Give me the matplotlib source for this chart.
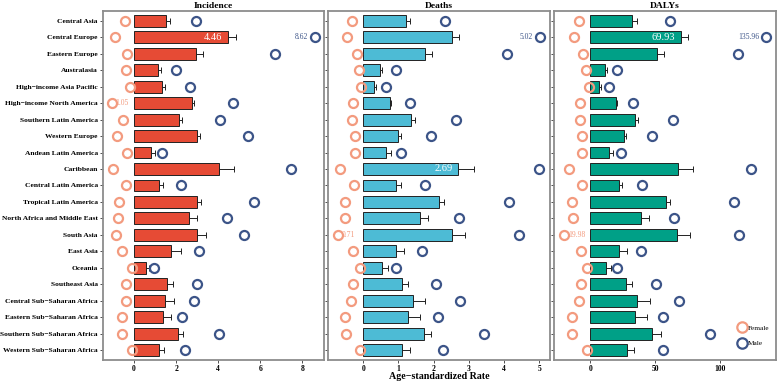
import matplotlib
matplotlib.use("Agg")
import matplotlib.pyplot as plt
import numpy as np

plt.rcParams["font.family"] = ["Liberation Serif", "DejaVu Serif"]

regions = [
    "Central Asia", "Central Europe", "Eastern Europe", "Australasia",
    "High−income Asia Pacific", "High−income North America",
    "Southern Latin America", "Western Europe", "Andean Latin America",
    "Caribbean", "Central Latin America", "Tropical Latin America",
    "North Africa and Middle East", "South Asia", "East Asia", "Oceania",
    "Southeast Asia", "Central Sub−Saharan Africa", "Eastern Sub−Saharan Africa",
    "Southern Sub−Saharan Africa", "Western Sub−Saharan Africa",
]

# both sexes (bar), upper bound of interval, female, male
inc_both = [1.51, 4.46, 2.95, 1.14, 1.35, 2.76, 2.16, 2.98, 0.81, 4.06, 1.21,
            2.98, 2.60, 2.98, 1.78, 0.56, 1.59, 1.48, 1.40, 2.08, 1.19]
inc_upper = [1.71, 4.87, 3.30, 1.29, 1.46, 2.86, 2.30, 3.14, 1.02, 4.75, 1.37,
             3.16, 2.98, 3.43, 2.24, 0.73, 1.86, 1.89, 1.78, 2.35, 1.43]
inc_female = [0.41, 0.92, 0.33, 0.40, 0.21, 1.05, 0.54, 0.79, 0.33, 0.98, 0.37,
              0.71, 0.78, 0.87, 0.56, 0.11, 0.37, 0.38, 0.56, 0.59, 0.10]
inc_male = [2.95, 8.62, 6.68, 1.98, 2.65, 4.70, 4.08, 5.41, 1.33, 7.48, 2.22,
            5.68, 4.41, 5.22, 3.11, 0.97, 3.00, 2.84, 2.27, 4.06, 2.41]

dea_both = [1.20, 2.51, 1.75, 0.49, 0.32, 0.77, 1.36, 0.99, 0.64, 2.69, 0.94,
            2.15, 1.62, 2.52, 0.94, 0.52, 1.10, 1.40, 1.28, 1.72, 1.11]
dea_upper = [1.32, 2.71, 1.95, 0.53, 0.35, 0.79, 1.47, 1.06, 0.79, 3.14, 1.08,
             2.29, 1.84, 2.89, 1.16, 0.69, 1.28, 1.76, 1.61, 1.92, 1.34]
dea_female = [0.31, 0.46, 0.18, 0.12, 0.05, 0.28, 0.33, 0.23, 0.24, 0.66, 0.27,
              0.52, 0.52, 0.71, 0.30, 0.09, 0.29, 0.35, 0.52, 0.50, 0.09]
dea_male = [2.33, 5.02, 4.08, 0.92, 0.66, 1.33, 2.62, 1.91, 1.08, 4.98, 1.75,
            4.14, 2.71, 4.43, 1.68, 0.93, 2.07, 2.74, 2.12, 3.42, 2.27]

daly_both = [32.1, 69.93, 51.3, 11.5, 7.1, 19.9, 34.2, 25.8, 14.8, 67.6, 21.9,
             58.4, 39.3, 67.1, 22.4, 12.2, 27.6, 36.0, 34.2, 48.0, 28.1]
daly_upper = [36.2, 75.5, 57.1, 12.8, 7.9, 20.4, 36.7, 27.3, 17.9, 79.6, 24.7,
              61.5, 45.2, 77.3, 28.1, 16.1, 32.1, 46.4, 44.1, 54.6, 33.7]
daly_female = [8.9, 12.8, 5.4, 3.1, 1.3, 7.9, 8.2, 6.1, 6.1, 16.1, 6.4,
               13.8, 13.5, 19.98, 6.9, 2.8, 7.1, 8.9, 14.3, 14.0, 2.6]
daly_male = [61.2, 135.96, 113.8, 20.9, 14.3, 33.2, 64.0, 47.4, 23.7, 124.2, 39.8,
             110.7, 64.5, 115.1, 39.3, 20.7, 50.5, 68.6, 56.1, 92.6, 56.1]

panels = [
    ("Incidence", inc_both, inc_upper, inc_female, inc_male, "#E64B35",
     (-1.49, 9.05), [0, 2, 4, 6, 8]),
    ("Deaths", dea_both, dea_upper, dea_female, dea_male, "#4DBBD5",
     (-0.99, 5.30), [0, 1, 2, 3, 4, 5]),
    ("DALYs", daly_both, daly_upper, daly_female, daly_male, "#00A087",
     (-28.1, 143.2), [0, 50, 100]),
]

female_col = "#F39B7F"
male_col = "#3C5488"

fig = plt.figure(figsize=(7.78, 3.82), dpi=100)
lefts = [0.132, 0.422, 0.712]
w = 0.285
y = np.arange(len(regions))

for i, (title, both, upper, fem, male, col, xlim, ticks) in enumerate(panels):
    ax = fig.add_axes([lefts[i], 0.058, w, 0.913])
    both = np.array(both)
    upper = np.array(upper)
    fem = np.array(fem)
    male = np.array(male)
    ax.barh(y, both, height=0.72, color=col, edgecolor="#222222", linewidth=0.7,
            zorder=2)
    ax.errorbar(both, y, xerr=[np.zeros_like(both), upper - both], fmt="none",
                ecolor="#222222", elinewidth=0.7, capsize=2, capthick=0.7, zorder=3)
    ax.plot(-fem, y, "o", ms=6.5, mfc="none", mec=female_col, mew=1.6, zorder=4,
            label="Female")
    ax.plot(male, y, "o", ms=6.5, mfc="none", mec=male_col, mew=1.6, zorder=4,
            label="Male")

    # highlight extremes
    k = int(np.argmax(both))
    ax.annotate(f"{both[k]:.2f}", (both[k], y[k]), xytext=(-4, 0),
                textcoords="offset points", ha="right", va="center",
                color="white", fontsize=7.5, zorder=5)
    k = int(np.argmax(male))
    ax.annotate(f"{male[k]:.2f}", (male[k], y[k]), xytext=(-5, 0),
                textcoords="offset points", ha="right", va="center",
                color=male_col, fontsize=5.5, zorder=5)
    k = int(np.argmax(fem))
    ax.annotate(f"{fem[k]:.2f}", (-fem[k], y[k]), xytext=(2.5, 0),
                textcoords="offset points", ha="left", va="center",
                color=female_col, fontsize=5.5, zorder=5)

    ax.set_xlim(*xlim)
    ax.set_ylim(len(regions) - 0.41, -0.59)
    ax.set_xticks(ticks)
    ax.set_xticklabels([str(t) for t in ticks], fontsize=5.5, fontweight="bold")
    ax.set_yticks(y)
    if i == 0:
        ax.set_yticklabels(regions, fontsize=5.4, fontweight="bold")
    else:
        ax.set_yticklabels([])
        ax.tick_params(axis="y", length=0)
    ax.tick_params(axis="both", width=0.6, length=2, pad=1.5, color="#333333")
    ax.set_title(title, fontsize=6.8, fontweight="bold", pad=2)
    for s in ax.spines.values():
        s.set_color("#8c8c8c")
        s.set_linewidth(1.3)
    if i == 1:
        ax.set_xlabel("Age−standardized Rate", fontsize=7.2, fontweight="bold",
                      labelpad=-0.5)
    if i == 2:
        ax.legend(loc="lower right", frameon=False, fontsize=5.2,
                  bbox_to_anchor=(1.0, 0.02), handletextpad=0.2,
                  handlelength=1.2, labelspacing=1.3, markerscale=1.15)

fig.savefig("out.png", dpi=100)
